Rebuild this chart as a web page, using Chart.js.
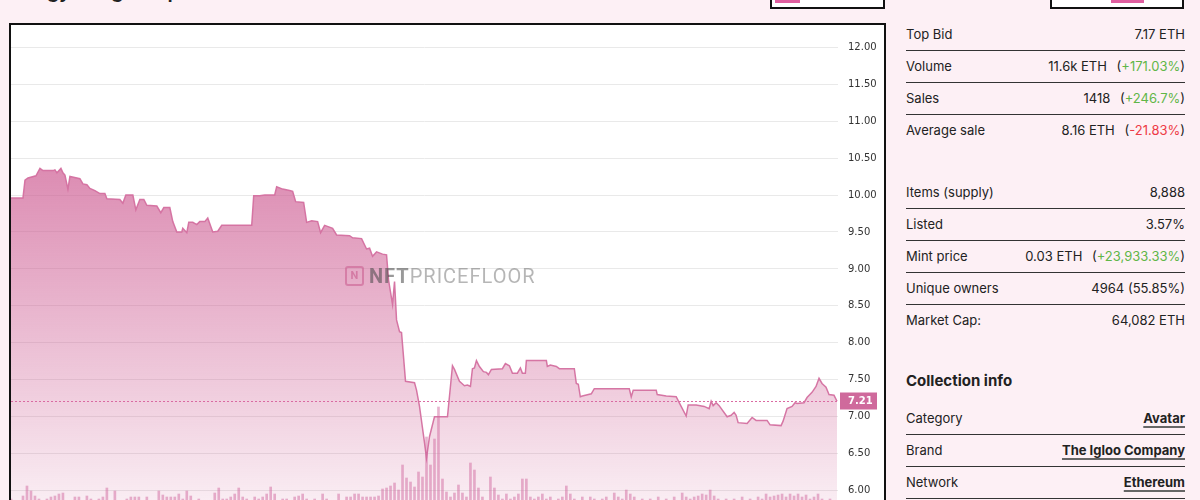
<!DOCTYPE html>
<html><head><meta charset="utf-8">
<script src="https://cdn.jsdelivr.net/npm/chart.js@4.4.1/dist/chart.umd.min.js"></script>
<style>
html,body{margin:0;padding:0;width:1200px;height:500px;overflow:hidden;background:#fdf0f5;font-family:Inter,"Noto Sans",sans-serif;color:#222;}
.abs{position:absolute;}
.title{left:10px;top:-21px;font-weight:600;font-size:20px;letter-spacing:-0.3px;white-space:nowrap;color:#222;}
.btn{border:2px solid #111;background:#fff;}
.sw{background:#e05fa0;}
.chartbox{left:9px;top:23px;width:873px;height:540px;border:2px solid #111;background:#fff;}
#c{position:absolute;left:0;top:0;}
.wm{left:345px;top:264px;white-space:nowrap;font-family:Roboto,sans-serif;font-size:20px;letter-spacing:1px;display:flex;align-items:center;pointer-events:none;}
.wm .logo{width:15px;height:16px;border:2px solid rgba(200,90,140,0.55);border-radius:3px;margin-right:5px;font-size:11px;line-height:16px;text-align:center;color:rgba(200,90,140,0.6);font-weight:700;letter-spacing:0;}
.wm .b{font-weight:700;color:rgba(70,70,70,0.55);}
.wm .l{color:rgba(80,80,80,0.42);}
.row{left:906px;width:279px;height:32px;display:flex;justify-content:space-between;align-items:center;font-size:13px;}
.sep{left:906px;width:279px;height:1px;background:#333;}
.g{color:#5fb648;}
.r{color:#ee3a46;}
.pc{margin-left:6px;}
.h{left:906px;font-size:15px;font-weight:700;}
.lnk{font-weight:700;text-decoration:underline;text-decoration-thickness:2px;text-underline-offset:3px;text-decoration-color:#666;}
</style></head>
<body>
<div class="abs title">Pudgy Penguins price floor</div>
<div class="abs btn" style="left:770px;top:-20px;width:111px;height:25px;"></div>
<div class="abs sw" style="left:775px;top:-10px;width:25px;height:13px;"></div>
<div class="abs btn" style="left:1050px;top:-20px;width:130px;height:25px;"></div>
<div class="abs sw" style="left:1111px;top:-10px;width:33px;height:13px;"></div>

<div class="abs chartbox"><canvas id="c" width="873" height="510"></canvas></div>
<div class="abs wm"><span class="logo">N</span><span class="b">NFT</span><span class="l">PRICEFLOOR</span></div>

<div class="abs row" style="top:18px"><span>Top Bid</span><span>7.17 ETH</span></div>
<div class="abs sep" style="top:50px"></div>
<div class="abs row" style="top:50px"><span>Volume</span><span>11.6k ETH <span class="pc">(<span class="g">+171.03%</span>)</span></span></div>
<div class="abs sep" style="top:82px"></div>
<div class="abs row" style="top:82px"><span>Sales</span><span>1418 <span class="pc">(<span class="g">+246.7%</span>)</span></span></div>
<div class="abs sep" style="top:114px"></div>
<div class="abs row" style="top:114px"><span>Average sale</span><span>8.16 ETH <span class="pc">(<span class="r">-21.83%</span>)</span></span></div>

<div class="abs row" style="top:176px"><span>Items (supply)</span><span>8,888</span></div>
<div class="abs sep" style="top:208px"></div>
<div class="abs row" style="top:208px"><span>Listed</span><span>3.57%</span></div>
<div class="abs sep" style="top:240px"></div>
<div class="abs row" style="top:240px"><span>Mint price</span><span>0.03 ETH <span class="pc">(<span class="g">+23,933.33%</span>)</span></span></div>
<div class="abs sep" style="top:272px"></div>
<div class="abs row" style="top:272px"><span>Unique owners</span><span>4964 (55.85%)</span></div>
<div class="abs sep" style="top:304px"></div>
<div class="abs row" style="top:304px"><span>Market Cap:</span><span>64,082 ETH</span></div>

<div class="abs h" style="top:371px">Collection info</div>
<div class="abs row" style="top:402px"><span>Category</span><span class="lnk">Avatar</span></div>
<div class="abs sep" style="top:434px"></div>
<div class="abs row" style="top:434px"><span>Brand</span><span class="lnk">The Igloo Company</span></div>
<div class="abs sep" style="top:466px"></div>
<div class="abs row" style="top:466px"><span>Network</span><span class="lnk">Ethereum</span></div>
<div class="abs sep" style="top:498px"></div>

<script>
// ---- data ----
const timeHours = [0,12,14,17,25,29,32,42,44,46,50,52,54,57,59,66,69,72,76,79,84,89,94,96,109,112,115,122,125,129,133,136,146,150,153,159,162,166,171,172,176,178,182,186,189,194,197,202,207,211,241,243,249,254,264,266,272,279,282,285,293,296,301,307,310,314,322,326,339,342,351,356,359,362,366,372,376,378,382,384,386,389,391,395,404,406,409,414,416,419,424,437,442,444,449,454,457,460,462,464,466,469,473,476,478,481,492,495,499,502,507,510,512,515,516,536,537,540,546,549,564,566,568,570,572,581,584,619,621,623,646,647,656,666,669,676,678,686,694,699,701,703,706,709,717,721,724,726,728,737,742,746,757,760,771,773,777,782,785,787,794,797,802,806,809,812,816,819,824,827];
const floorPrice = [9.96,9.96,10.20,10.23,10.26,10.36,10.33,10.33,10.34,10.30,10.36,10.30,10.27,10.08,10.25,10.23,10.22,10.15,10.14,10.09,10.06,10.02,10.02,9.95,9.94,9.89,10.00,10.00,9.80,9.94,9.94,9.86,9.85,9.76,9.83,9.83,9.64,9.50,9.50,9.55,9.49,9.63,9.63,9.60,9.64,9.64,9.69,9.50,9.51,9.59,9.59,9.99,9.99,10.00,10.00,10.11,10.08,10.06,10.05,9.91,9.90,9.63,9.65,9.64,9.49,9.59,9.55,9.46,9.45,9.42,9.41,9.27,9.28,9.17,9.23,9.20,9.19,8.85,8.52,8.83,8.31,8.15,8.14,7.48,7.46,7.36,7.14,6.65,6.44,6.73,7.00,7.00,7.69,7.64,7.48,7.42,7.43,7.41,7.65,7.66,7.76,7.68,7.61,7.60,7.57,7.64,7.65,7.72,7.69,7.59,7.59,7.66,7.59,7.59,7.76,7.76,7.68,7.70,7.68,7.65,7.65,7.45,7.44,7.27,7.28,7.31,7.38,7.38,7.27,7.36,7.36,7.30,7.28,7.27,7.19,7.01,7.16,7.16,7.14,7.11,7.21,7.15,7.19,7.15,7.00,7.02,7.06,7.02,6.92,6.91,6.99,6.95,6.95,6.89,6.88,6.94,7.11,7.14,7.19,7.18,7.19,7.26,7.33,7.41,7.52,7.45,7.40,7.30,7.29,7.21];
const volumeEth = [36,30,30,39,49,44,39,36,30,36, 38,39,41,42,30,30,38,38,30,39, 36,30,36,38,47,30,44,30,30,36, 38,38,38,30,38,30,30,44,40,38, 38,38,41,36,44,39,30,36,30,30, 30,42,47,36,36,38,41,47,38,36, 30,38,36,38,41,48,41,30,36,36, 30,38,39,41,36,30,36,30,41,36, 30,30,41,30,38,38,41,41,38,38, 38,38,39,46,47,49,52,45,70,57, 53,48,63,58,98,70,96,128,56,43, 38,42,50,42,38,72,65,47,38,30, 58,47,40,36,41,36,38,41,56,56, 38,36,38,41,36,38,30,36,38,49, 41,36,30,38,30,38,36,30,36,38, 30,42,38,36,45,41,38,30,36,30, 36,30,38,30,36,30,38,30,42,38, 36,38,39,41,40,45,39,36,30,36, 30,36,30,38,30,36,30,38,36,41, 38,39,40,41,38,41,39,41,38,40, 36,38,41,36,30,36,30,30];
const volumeHourStep = 4;
const yTicks = [6.00,6.50,7.00,7.50,8.00,8.50,9.00,9.50,10.00,10.50,11.00,11.50,12.00];
const currentFloor = 7.21;

// ---- build ----
const linePts = timeHours.map((t, i) => ({x: t, y: floorPrice[i]}));
const volPts = volumeEth.map((v, i) => ({x: i * volumeHourStep, y: v}));
const PINK = [205, 90, 145];

const currentPricePlugin = {
  id: 'currentPrice',
  afterDatasetsDraw(chart) {
    const {ctx, chartArea, scales: {y}} = chart;
    const py = Math.round(y.getPixelForValue(currentFloor)) + 0.5;
    ctx.save();
    ctx.strokeStyle = '#da6aa2';
    ctx.lineWidth = 1;
    ctx.setLineDash([2, 2]);
    ctx.beginPath(); ctx.moveTo(chartArea.left, py); ctx.lineTo(chartArea.right, py); ctx.stroke();
    ctx.setLineDash([]);
    ctx.fillStyle = '#cf6a9c';
    ctx.fillRect(chartArea.right + 2, py - 9, 37, 17);
    ctx.fillStyle = '#fff';
    ctx.font = 'bold 10px "DejaVu Sans"';
    ctx.textBaseline = 'middle';
    ctx.textAlign = 'left';
    ctx.fillText(currentFloor.toFixed(2), chartArea.right + 10, py);
    ctx.restore();
  }
};

new Chart(document.getElementById('c'), {
  data: {
    datasets: [
      {
        type: 'bar', data: volPts, yAxisID: 'vol', order: 1,
        backgroundColor: 'rgba(210,105,160,0.5)', barThickness: 2
      },
      {
        type: 'line', data: linePts, yAxisID: 'y', order: 2,
        borderColor: 'rgba(212,112,160,0.95)', borderWidth: 1.5,
        pointRadius: 0, tension: 0, fill: 'start',
        backgroundColor: (c) => {
          const a = c.chart.chartArea;
          if (!a) return 'rgba(205,90,145,0.4)';
          const g = c.chart.ctx.createLinearGradient(0, a.top, 0, a.bottom);
          g.addColorStop(0, `rgba(${PINK},0.95)`);
          g.addColorStop(1, `rgba(${PINK},0.05)`);
          return g;
        }
      }
    ]
  },
  options: {
    responsive: false, animation: false,
    layout: {padding: 0},
    plugins: {legend: {display: false}, tooltip: {enabled: false}},
    scales: {
      x: {type: 'linear', min: 0, max: 828, offset: false, display: false},
      vol: {type: 'linear', min: 0, max: 510, display: false},
      y: {
        type: 'linear', position: 'right', min: 5.4, max: 12.3,
        afterBuildTicks: (s) => { s.ticks = yTicks.map(v => ({value: v})); },
        afterFit: (s) => { s.width = 46; s.paddingTop = 0; s.paddingBottom = 0; },
        grid: {color: '#e9e9e9', drawTicks: false},
        border: {display: false},
        ticks: {padding: 10, color: '#333', font: {family: 'DejaVu Sans', size: 10},
                callback: (v) => Number(v).toFixed(2)}
      }
    }
  },
  plugins: [currentPricePlugin]
});
</script>
</body></html>
